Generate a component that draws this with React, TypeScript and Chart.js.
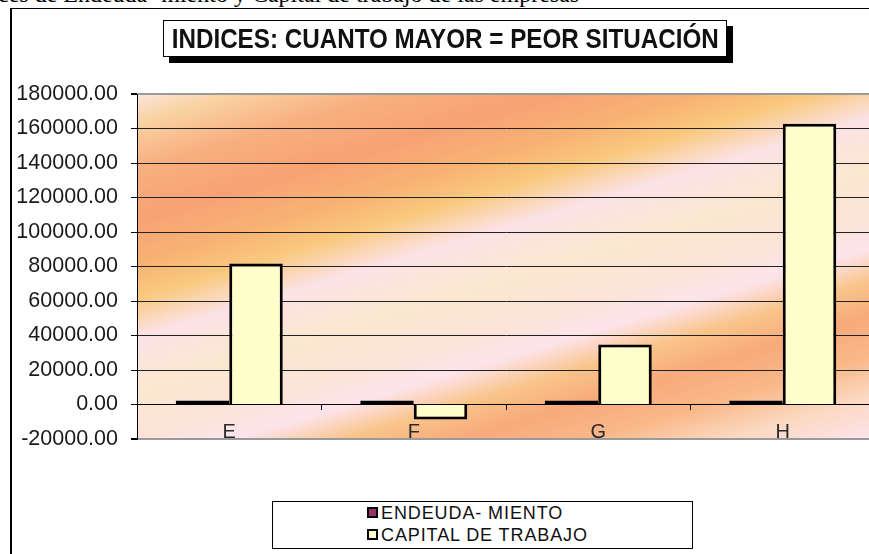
import React, { useEffect, useRef } from 'react';
import { Chart, registerables } from 'chart.js';

Chart.register(...registerables);

const categories = ['E', 'F', 'G', 'H'];
const endeudamiento = [0.62, 0.58, 0.55, 0.66];
const capitalTrabajo = [81700, -8700, 34800, 162800];
const yMin = -20000;
const yMax = 180000;
const yStep = 20000;
const seriesLabels = ['ENDEUDA- MIENTO', 'CAPITAL DE TRABAJO'];
const seriesColors = ['#993366', '#ffffcc'];
const titleText = 'INDICES: CUANTO MAYOR = PEOR SITUACIÓN';
const topText = 'ces de  Endeuda- miento y Capital de trabajo de las empresas';

const bgPlugin = {
  id: 'plotBg',
  beforeDraw(chart: any) {
    const { ctx, chartArea: a } = chart;
    if (!a) return;
    const slope = 0.3;
    const k = (a.bottom - a.top + slope * (a.right - a.left)) / (1 + slope * slope);
    const g = ctx.createLinearGradient(a.left, a.top, a.left + slope * k, a.top + k);
    const stops: [number, string][] = [
      [0, '#fbe4dc'],
      [0.05, '#f9d3a3'],
      [0.13, '#f8b081'],
      [0.22, '#f7a274'],
      [0.3, '#f8b274'],
      [0.36, '#f9c97e'],
      [0.43, '#fce2e6'],
      [0.52, '#fae8d0'],
      [0.6, '#fbe3d6'],
      [0.66, '#fde4ec'],
      [0.72, '#f9c48a'],
      [0.78, '#f8aa7c'],
      [0.85, '#f9b888'],
      [0.92, '#fbd8c0'],
      [1, '#fde4ee'],
    ];
    stops.forEach(([p, c]) => g.addColorStop(p, c));
    ctx.save();
    ctx.fillStyle = g;
    ctx.fillRect(a.left, a.top, a.right - a.left, a.bottom - a.top);
    ctx.restore();
  },
};

export default function App() {
  const canvasRef = useRef<HTMLCanvasElement | null>(null);

  useEffect(() => {
    const canvas = canvasRef.current;
    if (!canvas) return;
    const chart = new Chart(canvas, {
      type: 'bar',
      data: {
        labels: categories,
        datasets: [
          {
            label: seriesLabels[0],
            data: endeudamiento,
            backgroundColor: seriesColors[0],
            borderColor: '#000',
            borderWidth: 3,
            borderSkipped: false,
            minBarLength: 4,
          },
          {
            label: seriesLabels[1],
            data: capitalTrabajo,
            backgroundColor: seriesColors[1],
            borderColor: '#000',
            borderWidth: 3,
          },
        ],
      },
      plugins: [bgPlugin],
      options: {
        responsive: false,
        animation: false,
        devicePixelRatio: 1,
        layout: { padding: { top: 94, bottom: 115, left: 0, right: 10 } },
        datasets: { bar: { categoryPercentage: 0.58, barPercentage: 1 } },
        plugins: {
          legend: { display: false },
          title: { display: false },
          tooltip: { enabled: false },
        },
        scales: {
          x: {
            position: { y: 0 } as any,
            offset: true,
            grid: {
              offset: true,
              drawOnChartArea: false,
              drawTicks: true,
              tickLength: 5,
              color: '#000',
            },
            border: { display: true, color: '#000', width: 1 },
            ticks: {
              padding: 11,
              color: '#2a2a2a',
              font: { family: 'Liberation Sans, Arial, sans-serif', size: 20 },
            },
          },
          y: {
            min: yMin,
            max: yMax,
            afterFit(scale: any) {
              scale.width = 137;
            },
            grid: {
              color: (c: any) =>
                c.tick && (c.tick.value === yMax || c.tick.value === yMin) ? '#9a9a9a' : '#222',
              lineWidth: (c: any) =>
                c.tick && (c.tick.value === yMax || c.tick.value === yMin) ? 2 : 1,
              tickColor: '#000',
              tickLength: 6,
              drawTicks: true,
            },
            border: { display: true, color: '#000', width: 1 },
            ticks: {
              stepSize: yStep,
              padding: 13,
              color: '#1a1a1a',
              font: { family: 'Liberation Sans, Arial, sans-serif', size: 21.5 },
              callback: (v: any) => Number(v).toFixed(2),
            },
          },
        },
      },
    });
    return () => chart.destroy();
  }, []);

  const legendFont: React.CSSProperties = {
    position: 'absolute',
    left: 108,
    fontFamily: 'Liberation Sans, Arial, sans-serif',
    fontSize: 18,
    lineHeight: '20px',
    letterSpacing: '0.9px',
    color: '#111',
    whiteSpace: 'nowrap',
  };
  const marker = (c: string, top: number): React.CSSProperties => ({
    position: 'absolute',
    left: 94,
    top,
    width: 11,
    height: 11,
    boxSizing: 'border-box',
    border: '2px solid #000',
    background: c,
  });

  return (
    <div
      style={{
        position: 'fixed',
        left: 0,
        top: 0,
        width: 869,
        height: 554,
        overflow: 'hidden',
        background: '#fff',
      }}
    >
      <div
        style={{
          position: 'absolute',
          left: -2,
          top: -19,
          fontFamily: 'Liberation Serif, Times New Roman, serif',
          fontSize: 24,
          whiteSpace: 'nowrap',
          color: '#000',
        }}
      >
        {topText}
      </div>
      <div
        style={{
          position: 'absolute',
          left: 10,
          top: 8,
          width: 900,
          height: 600,
          borderLeft: '2px solid #000',
          borderTop: '1.5px solid #000',
        }}
      />
      <canvas
        ref={canvasRef}
        width={885}
        height={554}
        style={{ position: 'absolute', left: 0, top: 0, width: 885, height: 554 }}
      />
      <div
        style={{
          position: 'absolute',
          left: 163,
          top: 20,
          width: 564,
          height: 37,
          boxSizing: 'border-box',
          border: '1.5px solid #000',
          background: '#fff',
          boxShadow: '6px 6px 0 #000',
          display: 'flex',
          alignItems: 'center',
          justifyContent: 'center',
        }}
      >
        <span
          style={{
            display: 'inline-block',
            fontFamily: 'Liberation Sans, Arial, sans-serif',
            fontWeight: 'bold',
            fontSize: 28,
            color: '#111',
            whiteSpace: 'nowrap',
            transform: 'scaleX(0.865)',
            transformOrigin: 'center',
          }}
        >
          {titleText}
        </span>
      </div>
      <div
        style={{
          position: 'absolute',
          left: 272,
          top: 501,
          width: 421,
          height: 48,
          boxSizing: 'border-box',
          border: '1px solid #000',
          background: '#fff',
        }}
      >
        <div style={marker(seriesColors[0], 5)} />
        <div style={{ ...legendFont, top: 1 }}>{seriesLabels[0]}</div>
        <div style={marker(seriesColors[1], 27)} />
        <div style={{ ...legendFont, top: 23 }}>{seriesLabels[1]}</div>
      </div>
    </div>
  );
}
